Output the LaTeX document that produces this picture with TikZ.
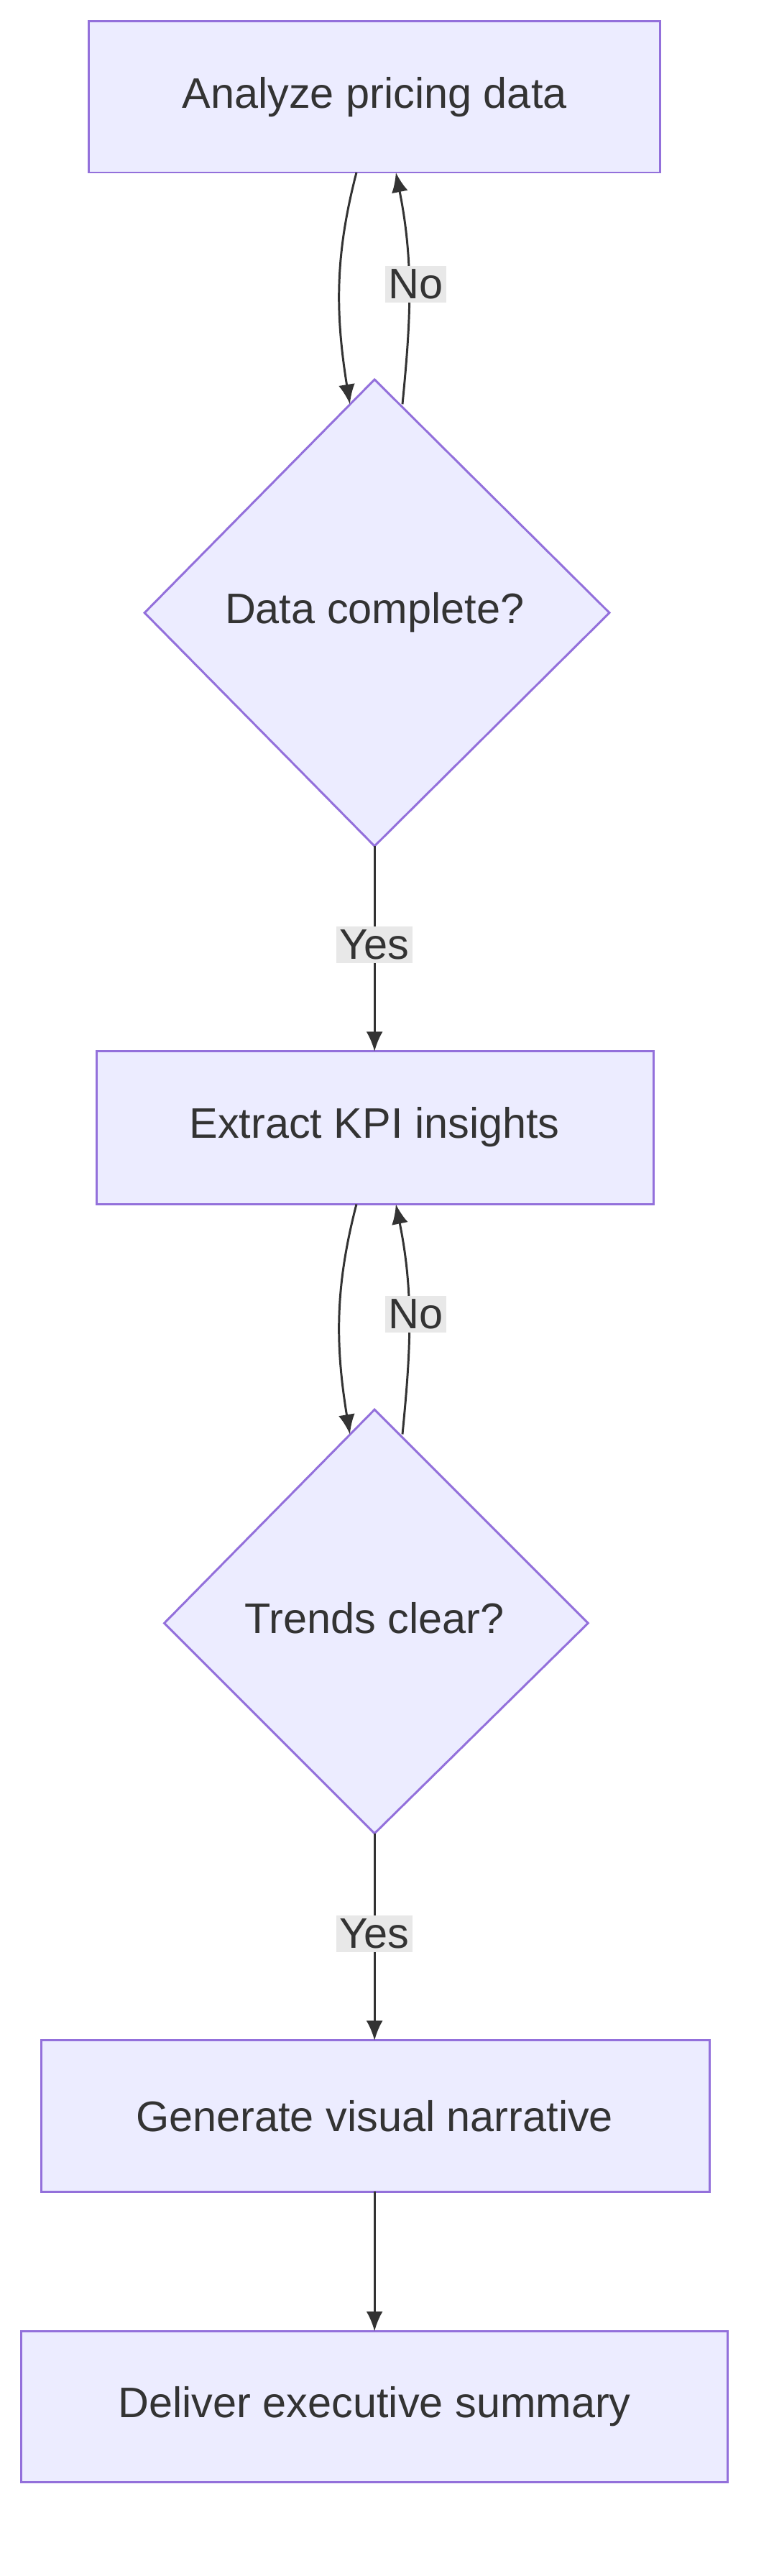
\documentclass[tikz,border=0pt]{standalone}
\usepackage{fontspec}
\setmainfont{Liberation Sans}
\usetikzlibrary{arrows.meta}
\definecolor{nfill}{HTML}{ECECFF}
\definecolor{nstroke}{HTML}{9370DB}
\definecolor{txt}{HTML}{333333}
\begin{document}
\begin{tikzpicture}[x=1pt,y=-1pt,
  font=\fontsize{26}{30}\selectfont, text=txt,
  box/.style={draw=nstroke,fill=nfill,line width=1.3pt},
  lbl/.style={fill=black!9,inner sep=2pt,text=txt},
  conn/.style={draw=txt,line width=1.3pt,-{Latex[length=12pt,width=10pt]}}]
\useasboundingbox (0,0) rectangle (471,1568);
\draw[box] (54,13) rectangle (402,105); \node (a) at (228,59) {Analyze pricing data};
\draw[box] (228,231) -- (371,373) -- (228,515) -- (88,373) -- cycle; \node (d1) at (228,373) {Data complete?};
\draw[box] (59,640) rectangle (398,733); \node (b) at (228,686) {Extract KPI insights};
\draw[box] (228,858) -- (358,988) -- (228,1116) -- (100,988) -- cycle; \node (d2) at (228,985) {Trends clear?};
\draw[box] (25,1242) rectangle (432,1334); \node (c) at (228,1288) {Generate visual narrative};
\draw[box] (13,1419) rectangle (443,1511); \node (e) at (228,1465) {Deliver executive summary};
\coordinate (a1) at (217,105); \coordinate (a2) at (241,105);
\coordinate (d1a) at (213,246); \coordinate (d1b) at (245,246);
\draw[conn] (a1) .. controls (204,155) and (204,190) .. (d1a);
\draw[conn] (d1b) .. controls (250,195) and (252,160) .. (a2);
\node[lbl] at (253,173) {No};
\coordinate (d1c) at (228,515); \coordinate (b1) at (228,640);
\draw[conn] (d1c) -- (b1); \node[lbl] at (228,575) {Yes};
\coordinate (b2) at (217,733); \coordinate (b3) at (241,733);
\coordinate (d2a) at (213,873); \coordinate (d2b) at (245,873);
\draw[conn] (b2) .. controls (204,783) and (204,818) .. (d2a);
\draw[conn] (d2b) .. controls (250,822) and (252,787) .. (b3);
\node[lbl] at (253,800) {No};
\coordinate (d2c) at (228,1116); \coordinate (c1) at (228,1242);
\draw[conn] (d2c) -- (c1); \node[lbl] at (228,1177) {Yes};
\coordinate (c2) at (228,1334); \coordinate (e1) at (228,1419);
\draw[conn] (c2) -- (e1);
\end{tikzpicture}
\end{document}
